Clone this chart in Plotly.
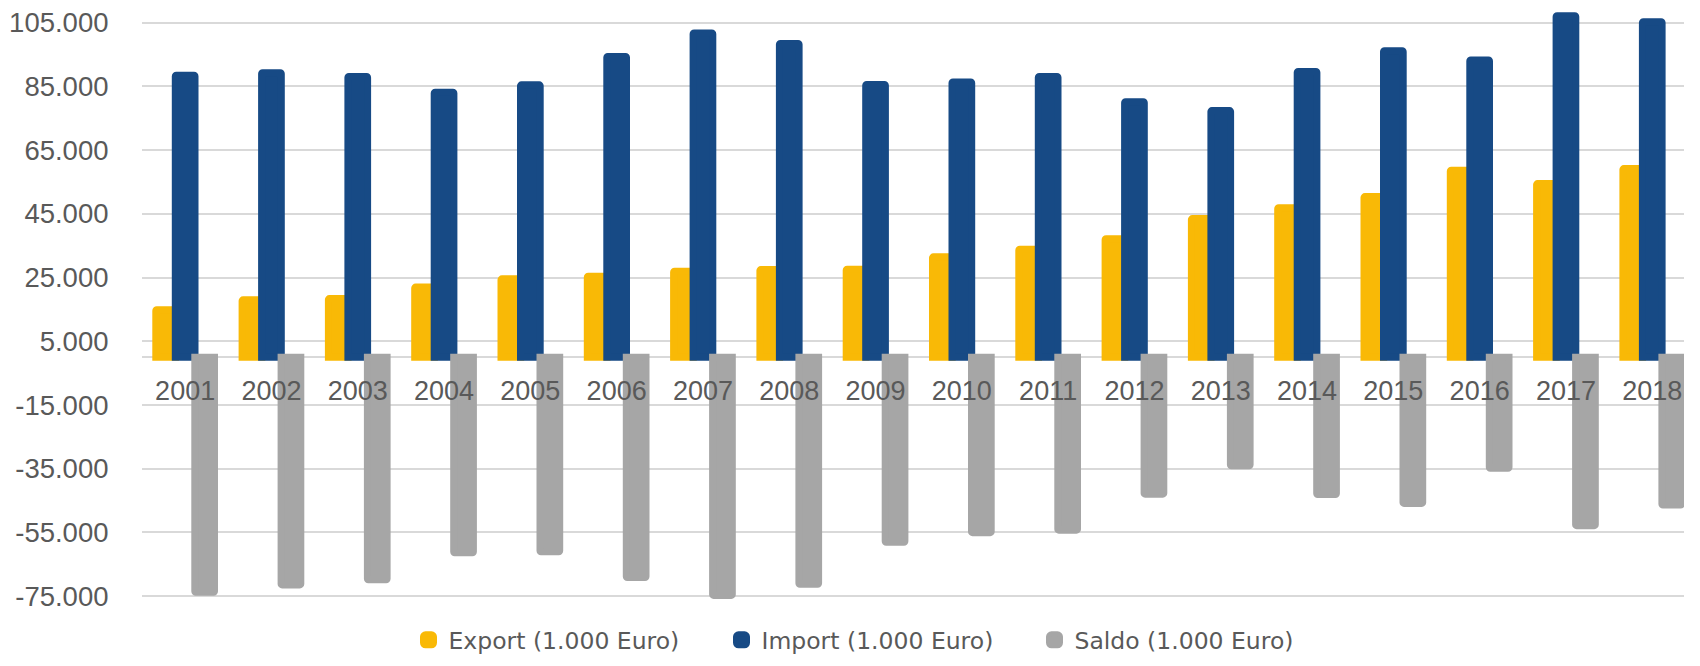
import plotly.graph_objects as go

years = [str(y) for y in range(2001, 2019)]
export_vals = [14900, 18000, 18400, 22000, 24600, 25400, 27000, 27500, 27600,
               31500, 33900, 37200, 43500, 46900, 50400, 58700, 54500, 59200]
import_vals = [88500, 89300, 88100, 83200, 85500, 94400, 101800, 98500, 85600,
               86400, 88100, 80200, 77400, 89700, 96200, 93300, 107200, 105300]
saldo_vals = [-73800, -71500, -69900, -61400, -61100, -69200, -74800, -71300, -58100,
              -55100, -54300, -43000, -34100, -43100, -45900, -34900, -52900, -46400]
series_names = ["Export (1.000 Euro)", "Import (1.000 Euro)", "Saldo (1.000 Euro)"]
tick_values = list(range(-75000, 105001, 20000))
tick_labels = [f"{v:,}".replace(",", ".") for v in tick_values]

colors = ["#F9B906", "#174A85", "#A6A6A6"]
# page body has an 8px margin; size the figure so that it stays in view
W = 1676
H = 650
ml, mr, mt = 134, 0, 0
px_per_unit = 0.003185
yr = [-80000, 109615]
plot_h = (yr[1] - yr[0]) * px_per_unit
mb = H - mt - plot_h
cat_px = 86.3

bw = (26.7 - 7) / cat_px
shift = 19.5 / cat_px
centers = [-shift, 0.0, shift]

fig = go.Figure()
for name, vals, col, c in zip(series_names, [export_vals, import_vals, saldo_vals], colors, centers):
    fig.add_trace(go.Bar(
        x=years, y=vals, name=name,
        marker=dict(color=col, line=dict(color=col, width=7)),
        width=bw, offset=c - bw / 2,
    ))

zero_pos = (0 - yr[0]) / (yr[1] - yr[0])

fig.update_layout(
    width=W, height=H,
    template="none",
    barmode="overlay",
    barcornerradius=1,
    paper_bgcolor="white",
    plot_bgcolor="white",
    margin=dict(l=ml, r=mr, t=mt, b=mb, autoexpand=False),
    font=dict(family="Liberation Sans, Arial, sans-serif", color="#595959", size=27),
    showlegend=True,
    legend=dict(
        orientation="h",
        x=266.5 / (W - ml), xanchor="left",
        y=(plot_h - 632) / plot_h, yanchor="middle",
        font=dict(family="DejaVu Sans", size=23.5, color="#595959"),
        entrywidth=268,
        bgcolor="rgba(0,0,0,0)",
        traceorder="normal",
    ),
    xaxis=dict(
        type="category",
        range=[-0.5, -0.5 + (W - ml) / cat_px],
        anchor="free", position=zero_pos,
        showgrid=False, showline=False, zeroline=False,
        ticks="outside", ticklen=9, tickcolor="rgba(0,0,0,0)",
        tickfont=dict(size=27, color="#595959"),
        ticklabeloverflow="allow",
        automargin=False,
    ),
    yaxis=dict(
        range=yr,
        tickmode="array", tickvals=tick_values, ticktext=tick_labels,
        showgrid=True, gridcolor="#D9D9D9", gridwidth=2,
        zeroline=True, zerolinecolor="#D9D9D9", zerolinewidth=2,
        showline=False,
        ticks="outside", ticklen=27, tickcolor="rgba(0,0,0,0)",
        tickfont=dict(size=27.5, color="#595959"),
        ticklabeloverflow="allow",
        automargin=False,
    ),
)

fig.write_html("out.html")
